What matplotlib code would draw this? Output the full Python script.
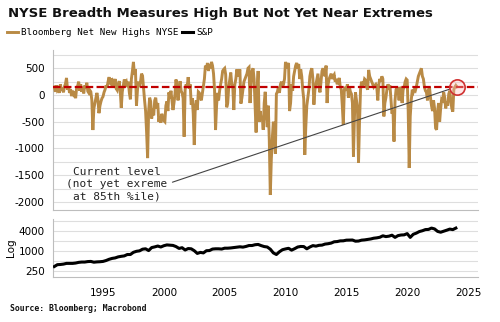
import numpy as np
import matplotlib
matplotlib.use("Agg")
import matplotlib.pyplot as plt
from matplotlib.ticker import FixedLocator, NullFormatter, FixedFormatter

plt.rcParams["axes.unicode_minus"] = False

# Bloomberg net new highs, NYSE (monthly, Jan 1991 onward)
nnh_start = 1991.0
net_new_highs = [
    150, 60, 180, 90, 120, 40, 200, 80, 130, 50, 160, 210,            # 1991
    320, 100, 160, 40, 110, -20, 80, 20, 60, -60, 140, 170,           # 1992
    250, 80, 200, 60, 150, 30, 180, 120, 230, 70, 40, 90,             # 1993
    60, -100, -655, -250, -150, -60, 40, -80, -340, -200, -120, -60,  # 1994
    -30, 50, 100, 180, 140, 250, 335, 200, 310, 150, 260, 230,        # 1995
    300, 120, 90, 200, 260, 80, -240, 60, 180, 290, 220, 250,         # 1996
    150, 250, 40, -80, 300, 450, 620, 380, 480, -200, 100, 250,       # 1997
    150, 250, 400, 360, 120, -100, -300, -700, -1180, -300, -50, -120,  # 1998
    -440, -250, -380, -100, -50, -250, -150, -500, -400, -520, -350, -450,  # 1999
    -480, -500, -200, -120, -300, 50, -60, 80, -100, -280, -150, 20,  # 2000
    290, 150, -100, 120, 260, 80, 40, -60, -780, 100, 200, 150,       # 2001
    335, 120, 200, -180, -60, -350, -935, -200, -100, -280, 60, 40,   # 2002
    -50, -100, 30, 150, 300, 550, 480, 600, 450, 580, 500, 620,       # 2003
    550, 400, 100, -655, -200, 40, -100, 80, 200, 300, 450, 480,      # 2004
    500, 380, -230, -150, 150, 280, 420, 200, 150, -280, 200, 300,    # 2005
    480, 350, 420, 480, -160, -50, 100, 250, 300, 350, 400, 500,      # 2006
    520, -150, 200, 450, 500, 300, -200, -700, 100, 450, -500, -300,  # 2007
    -450, -400, -650, -150, 60, -400, -600, -200, -850, -1870, -1200, -800,  # 2008
    -500, -800, -1100, 20, 60, 150, 40, 200, 250, 150, 200, 300,      # 2009
    620, 500, 550, 600, -300, -150, 200, 80, 350, 450, 550, 600,      # 2010
    500, 580, 300, 480, 350, 100, -80, -1120, -600, -200, -50, 100,   # 2011
    350, 450, 500, 300, -180, 100, 200, 300, 400, 150, 50, 250,       # 2012
    450, 500, 420, 350, 550, -150, 200, 300, 350, 400, 300, 350,      # 2013
    380, 250, 300, 200, 250, 320, 150, 100, -200, -560, 100, 150,     # 2014
    80, 200, -50, 150, 60, 20, -150, -1150, -400, 50, -100, -250,     # 2015
    -1270, -500, 100, 250, 150, 200, 300, 280, 150, 100, 470, 350,    # 2016
    300, 250, 200, 150, 180, 200, 150, -100, 200, 300, 250, 350,      # 2017
    300, -400, -150, -50, 100, 200, 150, 180, -100, -350, -300, -870, # 2018
    -100, 100, 150, 80, -100, 150, 120, -150, 100, 150, 250, 300,     # 2019
    280, -300, -1365, -400, -100, 100, 50, 100, 80, 150, 250, 350,    # 2020
    400, 450, 500, 350, 300, 150, 80, 50, -100, 100, 150, -50,        # 2021
    -200, -300, -100, -250, -620, -650, -300, -150, -500, -250, -80, -100,  # 2022
    50, -50, -250, -120, -200, 20, 80, -100, -250, -310, 100, 150,    # 2023
    180, 155,                                                          # 2024
]

# S&P 500 level (quarterly, Q1 1991 onward)
spx_start = 1991.0
spx = [
    330, 375, 380, 390, 410, 410, 410, 420, 440, 450, 450, 465,
    470, 445, 455, 460, 470, 500, 545, 580, 600, 645, 670, 690,
    760, 760, 885, 950, 980, 1100, 1130, 1000, 1230, 1290, 1370, 1280,
    1400, 1480, 1450, 1430, 1320, 1160, 1220, 1040, 1150, 1130, 990, 820,
    880, 850, 990, 1000, 1110, 1130, 1130, 1110, 1180, 1180, 1200, 1230,
    1260, 1300, 1270, 1330, 1420, 1420, 1500, 1530, 1410, 1320, 1280, 1100,
    850, 760, 920, 1060, 1120, 1170, 1030, 1140, 1280, 1330, 1320, 1130,
    1280, 1410, 1360, 1440, 1460, 1570, 1610, 1680, 1840, 1870, 1960, 1970,
    2060, 2070, 2080, 1920, 1940, 2060, 2100, 2170, 2240, 2360, 2420, 2520,
    2790, 2640, 2720, 2910, 2500, 2830, 2950, 2980, 3250, 2500, 3100, 3360,
    3750, 3970, 4300, 4350, 4770, 4500, 3790, 3580, 3830, 4120, 4450, 4290,
    4770,
]

threshold_85th = 150
x_ticks = [1995, 2000, 2005, 2010, 2015, 2020, 2025]
nnh_ticks = [500, 0, -500, -1000, -1500, -2000]
spx_ticks = [250, 1000, 4000]

title = "NYSE Breadth Measures High But Not Yet Near Extremes"
note = "Current level\n(not yet exreme\nat 85th %ile)"
source = "Source: Bloomberg; Macrobond"

BROWN = "#B98A45"
GRID = "#dedede"
SPINE = "#bdbdbd"
MONO = "DejaVu Sans Mono"

nnh_x = nnh_start + np.arange(len(net_new_highs)) / 12.0
spx_x = spx_start + np.arange(len(spx)) / 4.0

fig = plt.figure(figsize=(5.0, 3.22), dpi=100)
ax1 = fig.add_axes([0.106, 0.348, 0.85, 0.498])
ax2 = fig.add_axes([0.106, 0.140, 0.85, 0.180])

xlim = (1990.89, 2025.82)

# --- upper panel: net new highs
l1, = ax1.plot(nnh_x, net_new_highs, color=BROWN, lw=2.1, solid_joinstyle="miter",
               label="Bloomberg Net New Highs NYSE", zorder=3)
ax1.axhline(threshold_85th, color="#C00000", lw=1.6, dashes=(3.4, 1.5), zorder=4)
ax1.plot([nnh_x[-1]], [net_new_highs[-1]], marker="o", ms=11, mfc=(1, 0.75, 0.75, 0.35),
         mec="#D03030", mew=1.2, zorder=5)
ax1.set_xlim(*xlim)
ax1.set_ylim(-2150, 850)
ax1.yaxis.set_major_locator(FixedLocator(nnh_ticks))
ax1.yaxis.set_minor_locator(FixedLocator(np.arange(-2000, 751, 250)))
ax1.grid(True, axis="y", which="both", color=GRID, lw=0.8, zorder=0)
ax1.set_xticks([])
ax1.tick_params(axis="y", length=0, labelsize=7.5, pad=6, which="both")
for s in ("top", "right"):
    ax1.spines[s].set_visible(False)
for s in ("left", "bottom"):
    ax1.spines[s].set_color(SPINE)
    ax1.spines[s].set_linewidth(0.8)

ax1.annotate(note, xy=(nnh_x[-1], net_new_highs[-1]), xytext=(1996.1, -1665),
             ha="center", va="center", fontsize=8, family=MONO, color="#222222",
             linespacing=1.25,
             arrowprops=dict(arrowstyle="-", color="#444444", lw=0.8,
                             relpos=(1.0, 0.5), shrinkA=2, shrinkB=5))

# --- lower panel: S&P 500, log scale
l2, = ax2.plot(spx_x, spx, color="black", lw=2.2, label="S&P", zorder=3)
ax2.set_yscale("log")
ax2.set_xlim(*xlim)
ax2.set_ylim(160, 9000)
ax2.yaxis.set_major_locator(FixedLocator(spx_ticks))
ax2.yaxis.set_major_formatter(FixedFormatter([str(t) for t in spx_ticks]))
ax2.yaxis.set_minor_locator(FixedLocator([500, 2000, 8000]))
ax2.yaxis.set_minor_formatter(NullFormatter())
ax2.grid(True, axis="y", which="both", color=GRID, lw=0.8, zorder=0)
ax2.set_xticks(x_ticks)
ax2.tick_params(axis="both", length=0, labelsize=7.5, which="both")
ax2.tick_params(axis="y", pad=6)
ax2.tick_params(axis="x", pad=8)
ax2.set_ylabel("Log", fontsize=7.5, labelpad=2)
for s in ("top", "right"):
    ax2.spines[s].set_visible(False)
for s in ("left", "bottom"):
    ax2.spines[s].set_color(SPINE)
    ax2.spines[s].set_linewidth(0.8)

# --- titles, legend, source
fig.text(0.016, 0.957, title, fontsize=9.5, fontweight="bold", va="center", ha="left",
         color="#111111")
fig.legend(handles=[l1, l2], loc="center left", bbox_to_anchor=(0.014, 0.898), ncol=2,
           frameon=False, handlelength=1.2, handletextpad=0.3, columnspacing=0.4,
           borderpad=0, borderaxespad=0, prop=dict(family=MONO, size=6.7))
fig.text(0.02, 0.043, source, fontsize=5.9, fontweight="bold", family=MONO,
         va="center", ha="left", color="#111111")

fig.savefig("out.png", dpi=100, facecolor="white")
